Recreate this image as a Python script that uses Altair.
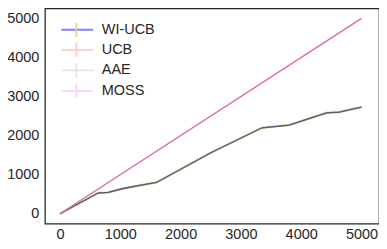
import altair as alt
import pandas as pd

series = ["WI-UCB", "UCB", "AAE", "MOSS"]
curve_x = [0, 630, 800, 1030, 1300, 1600, 2500, 3350, 3800, 4420, 4630, 5000]
curve_y = [0, 530, 545, 640, 720, 800, 1560, 2200, 2270, 2580, 2600, 2730]
moss_x = [0, 5000]
moss_y = [0, 5000]
x_ticks = [0, 1000, 2000, 3000, 4000, 5000]
y_ticks = [0, 1000, 2000, 3000, 4000, 5000]

legend_line_colors = ["#8080ff", "#ffcccc", "#e6e6e6", "#f7d4f7"]
legend_bar_colors = ["#dcdc8c", "#ffcccc", "#e6e6e6", "#f7d4f7"]

rows = []
for s in series[:3]:
    for a, b in zip(curve_x, curve_y):
        rows.append({"series": s, "x": a, "y": b})
for a, b in zip(moss_x, moss_y):
    rows.append({"series": "MOSS", "x": a, "y": b})
df = pd.DataFrame(rows)

FONT = "Liberation Sans"
TXT = "#262626"

x = alt.X("x:Q", scale=alt.Scale(domain=[-250, 5290], nice=False, zero=False),
          axis=alt.Axis(values=x_ticks, title=None, labelPadding=4, format="d"))
y = alt.Y("y:Q", scale=alt.Scale(domain=[-255, 5255], nice=False, zero=False),
          axis=alt.Axis(values=y_ticks, title=None, labelPadding=6, format="d"))

base = alt.Chart(df)

olive = base.transform_filter(alt.datum.series == "WI-UCB").mark_line(
    color="#bcbd22", strokeWidth=2.6, opacity=0.4).encode(x=x, y=y)
wi = base.transform_filter(alt.datum.series == "WI-UCB").mark_line(
    color="#0000ff", strokeWidth=1.3, opacity=0.4).encode(x=x, y=y)
ucb = base.transform_filter(alt.datum.series == "UCB").mark_line(
    color="#ff0000", strokeWidth=1.3, opacity=0.1).encode(x=x, y=y)
aae = base.transform_filter(alt.datum.series == "AAE").mark_line(
    color="#4a4a4a", strokeWidth=1.3, opacity=0.7).encode(x=x, y=y)
moss = base.transform_filter(alt.datum.series == "MOSS").mark_line(
    color="#e066ad", strokeWidth=1.4).encode(x=x, y=y)

OFF = 14
RP = 4.4
CH = 15
SO = 1.5
LO = 7.5

leg_lines = base.transform_filter("false").mark_line().encode(
    x=x, y=y,
    stroke=alt.Stroke("series:N",
                      scale=alt.Scale(domain=series, range=legend_line_colors),
                      legend=alt.Legend(orient="top-left", offset=OFF, title=None,
                                        symbolType="M-1,0H1", symbolSize=1024,
                                        symbolStrokeWidth=1.8, labelOffset=LO,
                                        symbolOffset=SO, clipHeight=CH,
                                        rowPadding=RP, padding=0)))
leg_bars = base.transform_filter("false").mark_point(filled=True).encode(
    x=x, y=y,
    fill=alt.Fill("series:N",
                  scale=alt.Scale(domain=series, range=legend_bar_colors),
                  legend=alt.Legend(orient="none", legendX=OFF, legendY=OFF, title=None,
                                    symbolType="M-0.06,-0.45H0.06V0.45H-0.06Z",
                                    symbolSize=1024, symbolStrokeWidth=0,
                                    symbolOpacity=1, labelOffset=LO,
                                    symbolOffset=SO, clipHeight=CH,
                                    rowPadding=RP, padding=0, labelExpr="''")))

chart = alt.layer(olive, wi, ucb, aae, moss, leg_lines, leg_bars).resolve_scale(
    stroke="independent", fill="independent"
).properties(
    width=335, height=216, autosize="none",
    padding={"left": 37, "top": 0, "right": 0, "bottom": 25},
    background="white",
).configure_view(
    stroke=TXT, strokeWidth=1.25
).configure_axis(
    labelFont=FONT, labelFontSize=14.5, labelColor=TXT,
    domain=False, ticks=False, grid=False
).configure_legend(
    labelFont=FONT, labelFontSize=14.5, labelColor=TXT
)

chart.save("out.html", embed_options={"renderer": "svg", "actions": False})
